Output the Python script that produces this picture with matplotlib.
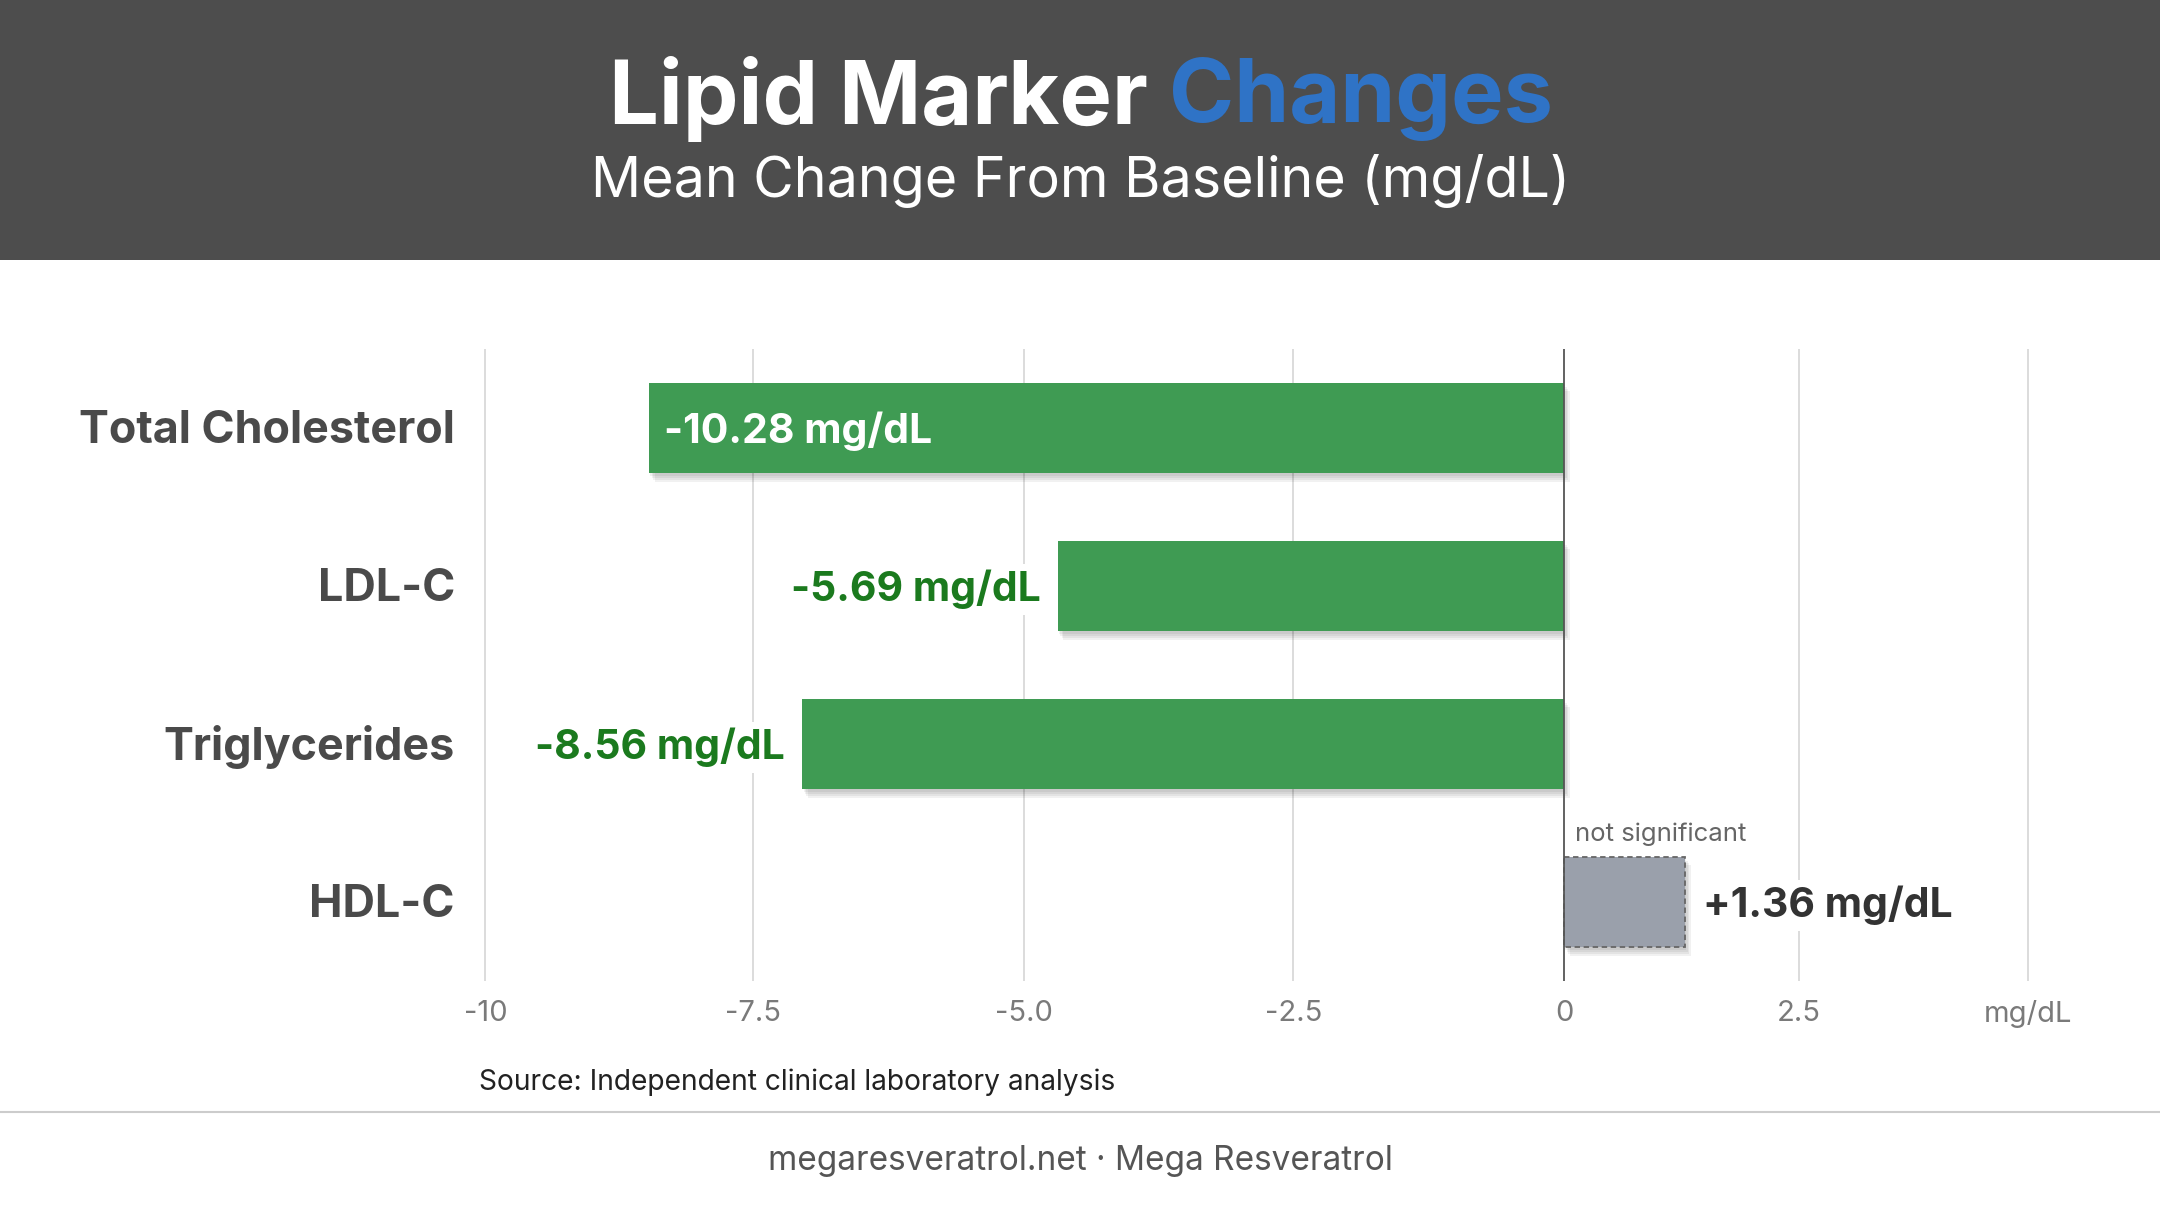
import matplotlib
matplotlib.use("Agg")
import matplotlib.pyplot as plt
import matplotlib.patheffects as pe
from matplotlib.patches import Rectangle
from matplotlib.lines import Line2D

# data
markers = ["Total Cholesterol", "LDL-C", "Triglycerides", "HDL-C"]
changes = [-10.28, -5.69, -8.56, 1.36]
significant = [True, True, True, False]

# axis ticks as they appear in the picture
tick_pos = [-12.12, -9.11, -6.07, -3.04, 0, 2.64, 5.21]
tick_labels = ["-10", "-7.5", "-5.0", "-2.5", "0", "2.5", "mg/dL"]

title_main = "Lipid Marker "
title_accent = "Changes"
subtitle = "Mean Change From Baseline (mg/dL)"
source = "Source: Independent clinical laboratory analysis"
footer = "megaresveratrol.net \u00b7 Mega Resveratrol"

FONT = ["Inter", "DejaVu Sans"]
plt.rcParams["font.family"] = FONT

W, H = 2160, 1206
fig = plt.figure(figsize=(W / 100, H / 100), dpi=100)
fig.patch.set_facecolor("white")

# header band
fig.patches.append(Rectangle((0, 1 - 260 / H), 1, 260 / H, transform=fig.transFigure,
                             facecolor="#4d4d4d", edgecolor="none", zorder=0))

# two-colour title, centred as one line
renderer = fig.canvas.get_renderer()
t1 = fig.text(0, 1 - 99 / H, title_main, fontsize=63.5, fontweight="bold",
              color="white", va="center", ha="left")
t2 = fig.text(0, 1 - 99 / H, title_accent, fontsize=63.5, fontweight="bold",
              color="#2f73c6", va="center", ha="left")
w1 = t1.get_window_extent(renderer).width
w2 = t2.get_window_extent(renderer).width
x0 = (1081 - (w1 + w2) / 2) / W
t1.set_x(x0)
t2.set_x(x0 + w1 / W)

fig.text(1081 / W, 1 - 181 / H, subtitle, fontsize=40, color="white",
         ha="center", va="center")

# plot area
scale = 89.0  # px per mg/dL
x_lo, x_hi = -12.6, 5.6
left_px = 1564 + x_lo * scale
right_px = 1564 + x_hi * scale
ax = fig.add_axes([left_px / W, 1 - 981 / H, (right_px - left_px) / W, 632 / H])
ax.set_xlim(x_lo, x_hi)
ax.set_ylim(len(markers) - 0.5, -0.5)
for s in ax.spines.values():
    s.set_visible(False)
ax.set_yticks([])
ax.set_xticks(tick_pos, tick_labels)
ax.tick_params(axis="x", length=0, pad=14, labelsize=21, labelcolor="#7a7a7a")

for p in tick_pos:
    if p == 0:
        ax.axvline(p, color="#555555", lw=1.3, zorder=4)
    else:
        ax.axvline(p, color="#d9d9d9", lw=1.3, zorder=0)

bar_h = 0.575
# soft drop shadow built from a few faint offset copies
shadow = [pe.SimplePatchShadow(offset=(k, -1.6 * k), shadow_rgbFace="black", alpha=0.055)
          for k in (1, 2, 3, 4)] + [pe.Normal()]
for i, (v, sig) in enumerate(zip(changes, significant)):
    if sig:
        b = ax.barh(i, v, height=bar_h, color="#3f9b53", edgecolor="none", zorder=2)
    else:
        b = ax.barh(i, v, height=bar_h, color="#9aa0ab", edgecolor="#666666",
                    linestyle=(0, (3, 2)), linewidth=1.3, zorder=2)
    b[0].set_path_effects(shadow)

    txt = f"{v:+.2f} mg/dL" if v > 0 else f"{v:.2f} mg/dL"
    ty = i + 0.02
    if v < 0 and abs(v) > 9:
        ax.text(v + 15 / scale, ty, txt, ha="left", va="center", fontsize=29.5,
                fontweight="bold", color="white", zorder=5)
    elif v < 0:
        ax.text(v - 17 / scale, ty, txt, ha="right", va="center", fontsize=29.5,
                fontweight="bold", color="#1b7a1e", zorder=5,
                bbox=dict(facecolor="white", edgecolor="none", pad=4))
    else:
        ax.text(v + 18 / scale, ty, txt, ha="left", va="center", fontsize=29.5,
                fontweight="bold", color="#333333", zorder=5,
                bbox=dict(facecolor="white", edgecolor="none", pad=4))
    if not sig:
        ax.text(11 / scale, i - bar_h / 2 - 0.07, "not significant", ha="left",
                va="bottom", fontsize=18.5, color="#666666", zorder=5)

    ax.text((455 - left_px) / (right_px - left_px), ty, markers[i],
            transform=ax.get_yaxis_transform(), ha="right", va="center",
            fontsize=32.3, fontweight="bold", color="#4a4a4a")

# source and footer
fig.text(479 / W, 1 - 1082 / H, source, fontsize=20.3, color="#222222",
         ha="left", va="center")
fig.lines.append(Line2D([0, 1], [1 - 1112 / H] * 2, transform=fig.transFigure,
                        color="#cccccc", lw=1.5))
fig.text(1080 / W, 1 - 1161 / H, footer, fontsize=24, color="#555555",
         ha="center", va="center")

fig.savefig("out.png", dpi=100, facecolor="white")
